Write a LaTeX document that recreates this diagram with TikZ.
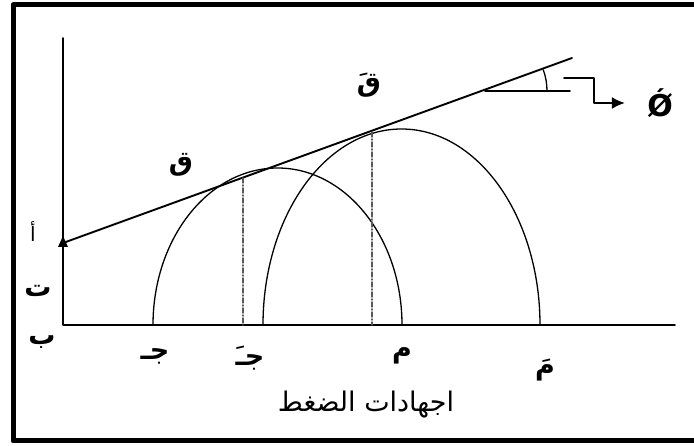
\documentclass[tikz,border=0pt]{standalone}
\usepackage{fontspec}
\usetikzlibrary{arrows.meta}
\newfontfamily\arabicfont[Script=Arabic]{DejaVu Sans}
\newfontfamily\anglefont{DejaVu Sans}
\TeXXeTstate=1
\newcommand{\artxt}[1]{{\arabicfont\beginR #1\endR}}
\begin{document}
\begin{tikzpicture}[x=1pt,y=-1pt,line join=round,line cap=round,>=stealth,thick]
	\tikzset{every node/.style={inner sep=0pt},
		lbl/.style={font=\arabicfont\bfseries\fontsize{27}{27}\selectfont},
		curve/.style={line width=1.3pt},
		heavy/.style={line width=1.9pt},
		proj/.style={gray!70!black,line width=1.5pt,dash pattern=on 5pt off 2pt on 1pt off 2pt}}
	\useasboundingbox (0,0) rectangle (694,446);
	\draw[line width=5pt] (13,5) rectangle (700,441);
	% axes
	\coordinate (B) at (63,325);
	\draw[heavy] (63,38)--(B)--(675,325);
	% circles
	\draw[curve] (153,325) arc[start angle=180,end angle=360,x radius=124.5,y radius=157];
	\draw[curve] (263,325) arc[start angle=180,end angle=360,x radius=138.5,y radius=196];
	% envelope
	\coordinate (A) at (63,243);
	\coordinate (E) at (572,58);
	\draw[heavy] (A)--(E);
	\fill (A)++(-5,4)--++(10,0)--++(-5,-11)--cycle;
	\coordinate (Q1) at (243,178);
	\coordinate (Q2) at (372,132);
	\draw[proj] (Q1)--(Q1|-B);
	\draw[proj] (Q2)--(Q2|-B);
	% angle
	\coordinate (O) at (485,91);
	\draw[heavy] (O)--++(85,0);
	\draw[curve] ([shift={(0:62)}]O) arc[start angle=0,end angle=-20,radius=62];
	\node[font=\anglefont\bfseries\fontsize{30}{30}\selectfont] (phi) at (660,103) {Ǿ};
	\coordinate (K) at (564,78);
	\draw[heavy,-{Latex[length=13pt,width=12pt]}] (K)-|(594,103)--([xshift=-22pt]phi.west);
	% labels
	\node[lbl,font=\arabicfont\fontsize{20}{20}\selectfont] (la) at (33,232) {\artxt{أ}};
	\node[lbl] (lt) at (38,291) {\artxt{ت}};
	\node[lbl] (lb) at (42,342) {\artxt{ب}};
	\foreach \x/\y/\t/\nm in {155/356/جـ/lj, 250/358/جـَ/ljp, 402/356/م/lm, 545/370/مَ/lmp, 181/165/ق/lq, 369/85/قَ/lqp}
		\node[lbl] (\nm) at (\x,\y) {\artxt{\t}};
	\node[font=\arabicfont\fontsize{27}{27}\selectfont] (title) at (366,405) {\artxt{اجهادات الضغط}};
\end{tikzpicture}
\end{document}
